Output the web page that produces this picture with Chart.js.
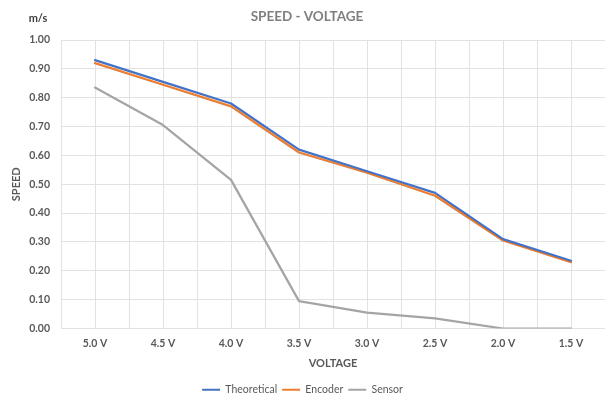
<!DOCTYPE html>
<html>
<head>
<meta charset="utf-8">
<title>SPEED - VOLTAGE</title>
<script src="https://cdn.jsdelivr.net/npm/chart.js@4.4.1/dist/chart.umd.min.js"></script>
<style>
  html, body { margin: 0; padding: 0; background: #ffffff; }
  #wrap { position: relative; width: 605px; height: 401px; }
</style>
</head>
<body>
<div id="wrap"><canvas id="chart" width="605" height="401"></canvas></div>
<script>
// Motor supply voltage (x categories) and measured speed in m/s
const voltages = ['5.0 V', '4.5 V', '4.0 V', '3.5 V', '3.0 V', '2.5 V', '2.0 V', '1.5 V'];
const theoretical = [0.93, 0.855, 0.78, 0.62, 0.545, 0.47, 0.31, 0.235];
const encoder     = [0.92, 0.845, 0.77, 0.61, 0.54, 0.46, 0.305, 0.23];
const sensor      = [0.835, 0.705, 0.515, 0.095, 0.055, 0.035, 0.0, 0.0];
const yTicks      = [0, 0.1, 0.2, 0.3, 0.4, 0.5, 0.6, 0.7, 0.8, 0.9, 1.0];

const FONT = "Lato, 'Open Sans', 'Liberation Sans', sans-serif";
const GRID = '#e2e2e2';
const TEXT = '#595959';

// Each category sits on an integer x position; gridlines fall every half step
const toPoints = (arr) => arr.map((v, i) => ({ x: i, y: v }));

// Chart heading and unit label drawn above the plot
const headerPlugin = {
  id: 'header',
  afterDraw(chart) {
    const ctx = chart.ctx;
    ctx.save();
    ctx.textBaseline = 'middle';
    ctx.textAlign = 'center';
    ctx.fillStyle = '#7f7f7f';
    ctx.font = 'bold 13.5px ' + FONT;
    ctx.fillText('SPEED - VOLTAGE', 307, 17);
    ctx.fillStyle = '#404040';
    ctx.font = 'bold 11px ' + FONT;
    ctx.fillText('m/s', 38, 18);
    ctx.restore();
  }
};

new Chart(document.getElementById('chart'), {
  type: 'line',
  data: {
    datasets: [
      { label: 'Theoretical', data: toPoints(theoretical), borderColor: '#4472c4', backgroundColor: '#4472c4' },
      { label: 'Encoder',     data: toPoints(encoder),     borderColor: '#ed7d31', backgroundColor: '#ed7d31' },
      { label: 'Sensor',      data: toPoints(sensor),      borderColor: '#a5a5a5', backgroundColor: '#a5a5a5' }
    ]
  },
  options: {
    responsive: false,
    animation: false,
    devicePixelRatio: 1,
    layout: { padding: { top: 40, bottom: -4, left: 0, right: 0 } },
    elements: {
      line: { borderWidth: 2.25, tension: 0, fill: false, borderCapStyle: 'round', borderJoinStyle: 'round' },
      point: { radius: 0, hoverRadius: 0 }
    },
    scales: {
      x: {
        type: 'linear',
        min: -0.5,
        max: 7.5,
        afterBuildTicks(scale) {
          const ticks = [];
          for (let v = -0.5; v < 7.5; v += 0.5) ticks.push({ value: v });
          scale.ticks = ticks;
        },
        afterFit(scale) { scale.height = 51; },
        ticks: {
          autoSkip: false,
          maxRotation: 0,
          padding: 9,
          color: TEXT,
          font: { family: FONT, size: 10.5, weight: 'bold' },
          callback: (v) => Number.isInteger(v) ? voltages[v] : ''
        },
        grid: { color: GRID, lineWidth: 1, drawTicks: false },
        border: { display: true, color: GRID },
        title: {
          display: true,
          text: 'VOLTAGE',
          color: TEXT,
          font: { family: FONT, size: 11, weight: 'bold' },
          padding: { top: 0, bottom: 9 }
        }
      },
      y: {
        min: 0,
        max: 1,
        afterBuildTicks(scale) { scale.ticks = yTicks.map(v => ({ value: v })); },
        afterFit(scale) { scale.width = 61; },
        ticks: {
          padding: 11,
          color: TEXT,
          font: { family: FONT, size: 10.5, weight: 'bold' },
          callback: (v) => Number(v).toFixed(2)
        },
        grid: { color: GRID, lineWidth: 1, drawTicks: false },
        border: { display: false },
        title: {
          display: true,
          text: 'SPEED',
          color: TEXT,
          font: { family: FONT, size: 11, weight: 'bold' },
          padding: { top: 10, bottom: 0 }
        }
      }
    },
    plugins: {
      title: { display: false },
      tooltip: { enabled: false },
      legend: {
        position: 'bottom',
        labels: {
          usePointStyle: true,
          pointStyle: 'line',
          pointStyleWidth: 18,
          padding: 5,
          color: TEXT,
          font: { family: FONT, size: 10.5 },
          generateLabels(chart) {
            return chart.data.datasets.map((ds, i) => ({
              text: ds.label,
              strokeStyle: ds.borderColor,
              fillStyle: ds.borderColor,
              fontColor: TEXT,
              lineWidth: 2,
              pointStyle: 'line',
              hidden: false,
              datasetIndex: i
            }));
          }
        }
      }
    }
  },
  plugins: [headerPlugin]
});
</script>
</body>
</html>
